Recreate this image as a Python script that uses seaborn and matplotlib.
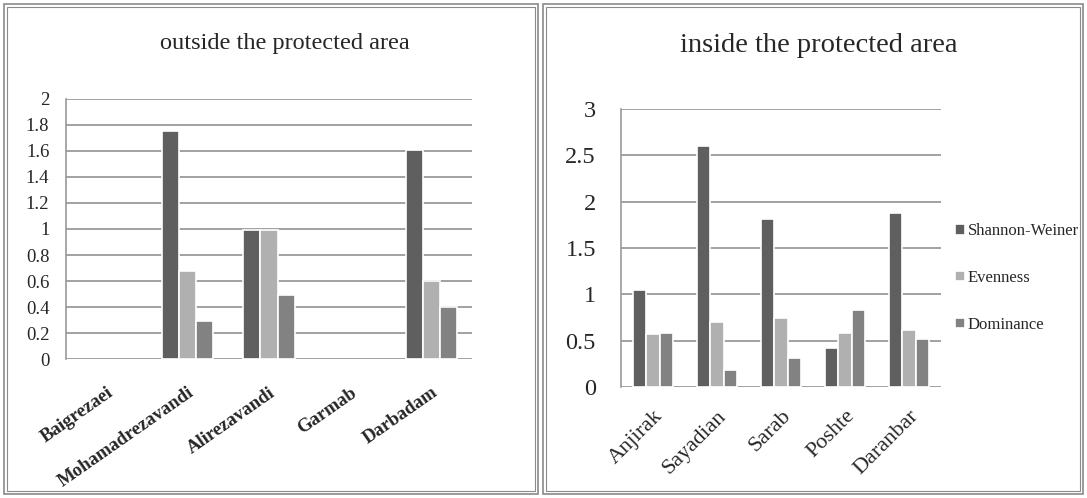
import numpy as np
import pandas as pd
import seaborn as sns
import matplotlib.pyplot as plt
from matplotlib.patches import Rectangle
from matplotlib.ticker import FuncFormatter

indices = ["Shannon-Weiner", "Evenness", "Dominance"]
colors = ["#5f5f5f", "#b0b0b0", "#828282"]

outside_sites = ["Baigrezaei", "Mohamadrezavandi", "Alirezavandi", "Garmab", "Darbadam"]
outside_shannon = [np.nan, 1.75, 0.99, np.nan, 1.61]
outside_evenness = [np.nan, 0.68, 0.99, np.nan, 0.60]
outside_dominance = [np.nan, 0.29, 0.49, np.nan, 0.40]

inside_sites = ["Anjirak", "Sayadian", "Sarab", "Poshte", "Daranbar"]
inside_shannon = [1.05, 2.60, 1.81, 0.42, 1.88]
inside_evenness = [0.57, 0.70, 0.74, 0.58, 0.61]
inside_dominance = [0.58, 0.18, 0.31, 0.83, 0.52]


def long_df(sites, sh, ev, do):
    rows = []
    for name, vals in zip(indices, [sh, ev, do]):
        for s, v in zip(sites, vals):
            rows.append({"site": s, "index": name, "value": v})
    return pd.DataFrame(rows)


df_out = long_df(outside_sites, outside_shannon, outside_evenness, outside_dominance)
df_in = long_df(inside_sites, inside_shannon, inside_evenness, inside_dominance)

sns.set_style("white")
plt.rcParams["font.family"] = ["Liberation Serif", "DejaVu Serif"]

W, H = 1087, 498
fig = plt.figure(figsize=(W / 100, H / 100), dpi=100)


def fx(px):
    return px / W


def fy(py):
    return 1 - py / H


# panel frames
for x0, x1 in [(4, 538), (543, 1083)]:
    for off, lw in [(0, 1.2), (3, 0.8)]:
        fig.add_artist(Rectangle((fx(x0 + off), fy(494 - off)), fx(x1 - x0 - 2 * off),
                                 (490 - 2 * off) / H, transform=fig.transFigure,
                                 fill=False, edgecolor="#8a8a8a", linewidth=lw))

ax1 = fig.add_axes([fx(66), fy(359), fx(472 - 66), (359 - 99) / H])
ax2 = fig.add_axes([fx(621), fy(387), fx(941 - 621), (387 - 109) / H])

pal = dict(zip(indices, colors))
sns.barplot(data=df_out, x="site", y="value", hue="index", order=outside_sites,
            hue_order=indices, palette=pal, width=0.63, edgecolor="white",
            linewidth=1.2, ax=ax1, legend=False)
sns.barplot(data=df_in, x="site", y="value", hue="index", order=inside_sites,
            hue_order=indices, palette=pal, width=0.63, edgecolor="white",
            linewidth=1.2, ax=ax2)

fmt = FuncFormatter(lambda v, p: f"{v:g}")
for ax, top, step in [(ax1, 2, 0.2), (ax2, 3, 0.5)]:
    ax.set_ylim(0, top)
    ax.set_yticks(np.arange(0, top + step / 2, step))
    ax.yaxis.set_major_formatter(fmt)
    ax.set_xlim(-0.5, 4.5)
    ax.set_axisbelow(True)
    ax.grid(axis="y", color="#9a9a9a", linewidth=1.3)
    for s in ["top", "right", "bottom"]:
        ax.spines[s].set_visible(False)
    ax.spines["left"].set_color("#9a9a9a")
    ax.spines["left"].set_linewidth(1.2)
    ax.tick_params(axis="both", length=0)
    ax.set_xlabel("")
    ax.set_ylabel("")

ax1.tick_params(axis="y", labelsize=13.5, pad=12)
ax1.tick_params(axis="x", pad=18)
for lab in ax1.get_xticklabels():
    lab.set_rotation(35)
    lab.set_ha("right")
    lab.set_rotation_mode("anchor")
    lab.set_fontweight("bold")
    lab.set_fontsize(13.5)

ax2.tick_params(axis="y", labelsize=17.5, pad=18)
ax2.tick_params(axis="x", pad=14)
for lab in ax2.get_xticklabels():
    lab.set_rotation(45)
    lab.set_ha("right")
    lab.set_rotation_mode("anchor")
    lab.set_fontsize(16)

fig.text(fx(285), fy(43), "outside the protected area", ha="center", va="center", fontsize=17.5)
fig.text(fx(819), fy(45), "inside the protected area", ha="center", va="center", fontsize=20.5)

handles, labels = ax2.get_legend_handles_labels()
ax2.legend_.remove()
fig.legend(handles, labels, loc="center left", bbox_to_anchor=(fx(955), fy(278)),
           frameon=False, fontsize=12, handlelength=0.6, handleheight=0.6,
           handletextpad=0.15, labelspacing=1.85, borderpad=0, borderaxespad=0)

fig.savefig("out.png", dpi=100)
